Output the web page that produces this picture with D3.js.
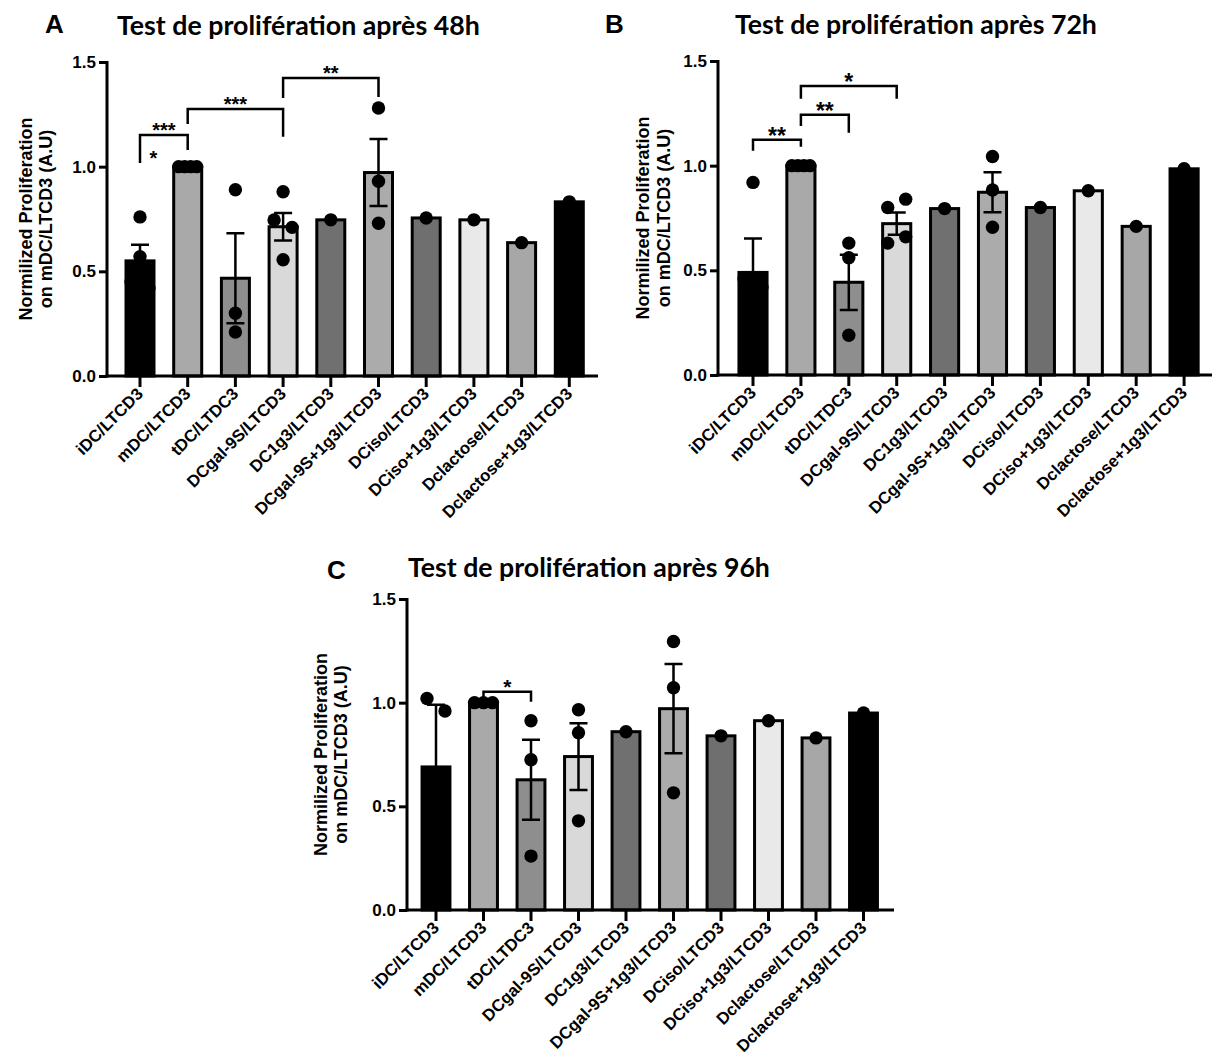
<!DOCTYPE html>
<html>
<head>
<meta charset="utf-8">
<script src="https://cdn.jsdelivr.net/npm/d3@7"></script>
<style>
  body { margin: 0; background: #fff; }
  svg text { font-family: "Liberation Sans", Arial, sans-serif; font-weight: bold; fill: #000; }
  svg text.title { font-family: Lato, "Open Sans", sans-serif; font-weight: 700; }
</style>
</head>
<body>
<svg id="chart" width="1214" height="1057"></svg>
<script>
// groups on the x axis, same for the three panels
var categories = ["iDC/LTCD3", "mDC/LTCD3", "tDC/LTDC3", "DCgal-9S/LTCD3", "DC1g3/LTCD3",
    "DCgal-9S+1g3/LTCD3", "DCiso/LTCD3", "DCiso+1g3/LTCD3", "Dclactose/LTCD3", "Dclactose+1g3/LTCD3"];

var yTicks = [0, 0.5, 1.0, 1.5];
var yTickLabels = ["0.0", "0.5", "1.0", "1.5"];

// 48h
var means48 = [0.55, 1.0, 0.467, 0.713, 0.746, 0.972, 0.755, 0.746, 0.637, 0.832];
var sem48 = [0.077, 0, 0.215, 0.066, 0, 0.16, 0, 0, 0, 0];
var points48 = [[0.76, 0.57, 0.45, 0.42], [1, 1, 1, 1], [0.89, 0.30, 0.21], [0.88, 0.745, 0.71, 0.555],
    [0.746], [1.28, 0.93, 0.73], [0.755], [0.746], [0.637], [0.832]];
var brackets48 = [
    {from: 0, to: 1, top: 1.151, leftEnd: 1.018, rightEnd: 1.08, label: "***"},
    {from: 1, to: 3, top: 1.275, leftEnd: 1.204, rightEnd: 1.143, label: "***"},
    {from: 3, to: 5, top: 1.423, leftEnd: 1.328, rightEnd: 1.333, label: "**"}
];
var notes48 = [{from: 0, to: 1, at: 0.28, value: 1.06, label: "*"}];

// 72h
var means72 = [0.49, 1.0, 0.443, 0.723, 0.795, 0.873, 0.80, 0.88, 0.71, 0.985];
var sem72 = [0.162, 0, 0.132, 0.053, 0, 0.095, 0, 0, 0, 0];
var points72 = [[0.92, 0.46, 0.42, 0.16], [1, 1, 1, 1], [0.63, 0.56, 0.19], [0.80, 0.84, 0.63, 0.66],
    [0.795], [1.044, 0.884, 0.706], [0.80], [0.88], [0.71], [0.985]];
var brackets72 = [
    {from: 0, to: 1, top: 1.124, leftEnd: 1.071, rightEnd: 1.09, label: "**"},
    {from: 1, to: 2, top: 1.243, leftEnd: 1.19, rightEnd: 1.157, label: "**"},
    {from: 1, to: 3, top: 1.38, leftEnd: 1.32, rightEnd: 1.32, label: "*"}
];
var notes72 = [];

// 96h
var means96 = [0.69, 1.0, 0.628, 0.74, 0.86, 0.971, 0.84, 0.913, 0.83, 0.95];
var sem96 = [0.30, 0, 0.193, 0.161, 0, 0.215, 0, 0, 0, 0];
var points96 = [[1.02, 0.96, 0.09], [1, 1, 1], [0.913, 0.725, 0.26], [0.966, 0.855, 0.43],
    [0.86], [1.295, 1.072, 0.565], [0.84], [0.913], [0.83], [0.95]];
var brackets96 = [
    {from: 1, to: 2, top: 1.053, leftEnd: 1.005, rightEnd: 1.005, label: "*"}
];
var notes96 = [];

var barFill = ["#000000", "#a9a9a9", "#8e8e8e", "#d9d9d9", "#707070",
    "#ababab", "#6f6f6f", "#e9e9e9", "#a7a7a7", "#000000"];

var panels = [
    {letter: "A", title: "Test de prolifération après 48h", means: means48, sem: sem48, points: points48,
        brackets: brackets48, notes: notes48,
        axisX: 107, firstTick: 140, step: 47.7, xEnd: 598, yBottom: 376, yTop: 62,
        letterX: 45, letterY: 33, titleX: 117, titleY: 35, titleW: 363, label1: -75, label2: -55, star: 20},
    {letter: "B", title: "Test de prolifération après 72h", means: means72, sem: sem72, points: points72,
        brackets: brackets72, notes: notes72,
        axisX: 718, firstTick: 753, step: 47.9, xEnd: 1212, yBottom: 375, yTop: 61,
        letterX: 605, letterY: 33, titleX: 735, titleY: 34, titleW: 362, label1: -69, label2: -48, star: 23},
    {letter: "C", title: "Test de prolifération après 96h", means: means96, sem: sem96, points: points96,
        brackets: brackets96, notes: notes96,
        axisX: 407, firstTick: 436, step: 47.5, xEnd: 894, yBottom: 910, yTop: 599,
        letterX: 327, letterY: 579, titleX: 408, titleY: 577, titleW: 362, label1: -80, label2: -60, star: 21}
];

var svg = d3.select("#chart");

// spread points that sit on top of each other, like the prism scatter
function spreadPoints(vals, y) {
    var pts = vals.map(function(v) { return {v: v, py: y(v), dx: 0}; });
    var clusters = [];
    pts.forEach(function(p) {
        var c = clusters.find(function(cl) {
            return cl.some(function(q) { return Math.abs(q.py - p.py) < 13; });
        });
        if (c) c.push(p); else clusters.push([p]);
    });
    clusters.forEach(function(cl) {
        var k = cl.length;
        cl.forEach(function(p, j) { p.dx = k === 1 ? 0 : -9 + 18 * j / (k - 1); });
    });
    return pts;
}

function drawPanel(p) {
    var g = svg.append("g");

    var x = d3.scaleBand()
        .domain(categories)
        .range([p.firstTick - p.step / 2, p.firstTick - p.step / 2 + p.step * categories.length])
        .paddingInner(0.413)
        .paddingOuter(0.2065);
    var y = d3.scaleLinear().domain([0, 1.5]).range([p.yBottom, p.yTop]);
    var cx = function(i) { return x(categories[i]) + x.bandwidth() / 2; };

    // bars
    g.selectAll("rect.bar")
        .data(p.means)
        .enter()
        .append("rect")
        .attr("class", "bar")
        .attr("x", function(d, i) { return x(categories[i]); })
        .attr("y", function(d) { return y(d); })
        .attr("width", x.bandwidth())
        .attr("height", function(d) { return y(0) - y(d); })
        .attr("fill", function(d, i) { return barFill[i]; })
        .attr("stroke", "#000")
        .attr("stroke-width", 3);

    // error bars (mean +/- sem)
    var err = g.append("g").attr("stroke", "#000").attr("stroke-width", 2.5).attr("fill", "none");
    p.means.forEach(function(m, i) {
        var s = p.sem[i];
        if (!s) return;
        var c = cx(i);
        err.append("path").attr("d",
            "M" + c + "," + y(m - s) + "V" + y(m + s) +
            "M" + (c - 9) + "," + y(m + s) + "H" + (c + 9) +
            "M" + (c - 9) + "," + y(m - s) + "H" + (c + 9));
    });

    // individual points
    p.points.forEach(function(vals, i) {
        g.append("g").selectAll("circle")
            .data(spreadPoints(vals, y))
            .enter()
            .append("circle")
            .attr("cx", function(d) { return cx(i) + d.dx; })
            .attr("cy", function(d) { return d.py; })
            .attr("r", 6.7)
            .attr("fill", "#000");
    });

    // axes
    var yAxis = d3.axisLeft(y).tickValues(yTicks)
        .tickFormat(function(d, i) { return yTickLabels[i]; })
        .tickSize(8).tickPadding(3);
    var ya = g.append("g").attr("transform", "translate(" + p.axisX + ",0)").call(yAxis);
    ya.select(".domain").attr("d", "M0," + (y(1.5) - 1) + "V" + (y(0) + 1.5));
    ya.selectAll("line").attr("stroke-width", 3);
    ya.selectAll("path").attr("stroke-width", 3);
    ya.selectAll("text").style("font-size", "17px").style("font-family", null);

    var xAxis = d3.axisBottom(x).tickSize(11).tickFormat("");
    var xa = g.append("g").attr("transform", "translate(0," + p.yBottom + ")").call(xAxis);
    xa.select(".domain").attr("d", "M" + (p.axisX - 1.5) + ",0H" + p.xEnd);
    xa.selectAll("line").attr("stroke-width", 3);
    xa.selectAll("path").attr("stroke-width", 3);

    g.append("g").selectAll("text")
        .data(categories)
        .enter()
        .append("text")
        .attr("transform", function(d) {
            return "translate(" + (x(d) + x.bandwidth() / 2 + 4) + "," + (p.yBottom + 19) + ") rotate(-45)";
        })
        .attr("text-anchor", "end")
        .style("font-size", "16.8px")
        .text(function(d) { return d; });

    // significance brackets
    p.brackets.forEach(function(b) {
        var xa0 = cx(b.from), xb0 = cx(b.to);
        g.append("path")
            .attr("d", "M" + xa0 + "," + y(b.leftEnd) + "V" + y(b.top) + "H" + xb0 + "V" + y(b.rightEnd))
            .attr("fill", "none")
            .attr("stroke", "#000")
            .attr("stroke-width", 2.5);
        g.append("text")
            .attr("x", (xa0 + xb0) / 2)
            .attr("y", y(b.top) - 9 + 0.56 * p.star)
            .attr("text-anchor", "middle")
            .style("font-size", p.star + "px")
            .text(b.label);
    });
    p.notes.forEach(function(n) {
        g.append("text")
            .attr("x", cx(n.from) + n.at * (cx(n.to) - cx(n.from)))
            .attr("y", y(n.value) + 0.56 * p.star)
            .attr("text-anchor", "middle")
            .style("font-size", p.star + "px")
            .text(n.label);
    });

    // y label, two lines
    var midY = (y(0) + y(1.5)) / 2;
    g.append("text")
        .attr("transform", "translate(" + (p.axisX + p.label1) + "," + midY + ") rotate(-90)")
        .attr("text-anchor", "middle")
        .style("font-size", "18px")
        .text("Normilized Proliferation");
    g.append("text")
        .attr("transform", "translate(" + (p.axisX + p.label2) + "," + midY + ") rotate(-90)")
        .attr("text-anchor", "middle")
        .style("font-size", "18px")
        .text("on mDC/LTCD3 (A.U)");

    // panel letter and title
    g.append("text")
        .attr("x", p.letterX)
        .attr("y", p.letterY)
        .style("font-size", "26px")
        .text(p.letter);
    var t = g.append("text")
        .attr("class", "title")
        .attr("x", p.titleX)
        .attr("y", p.titleY)
        .style("font-size", "24px")
        .text(p.title);
    var w = t.node().getComputedTextLength();
    t.style("font-size", (24 * p.titleW / w) + "px");
}

panels.forEach(drawPanel);
</script>
</body>
</html>
